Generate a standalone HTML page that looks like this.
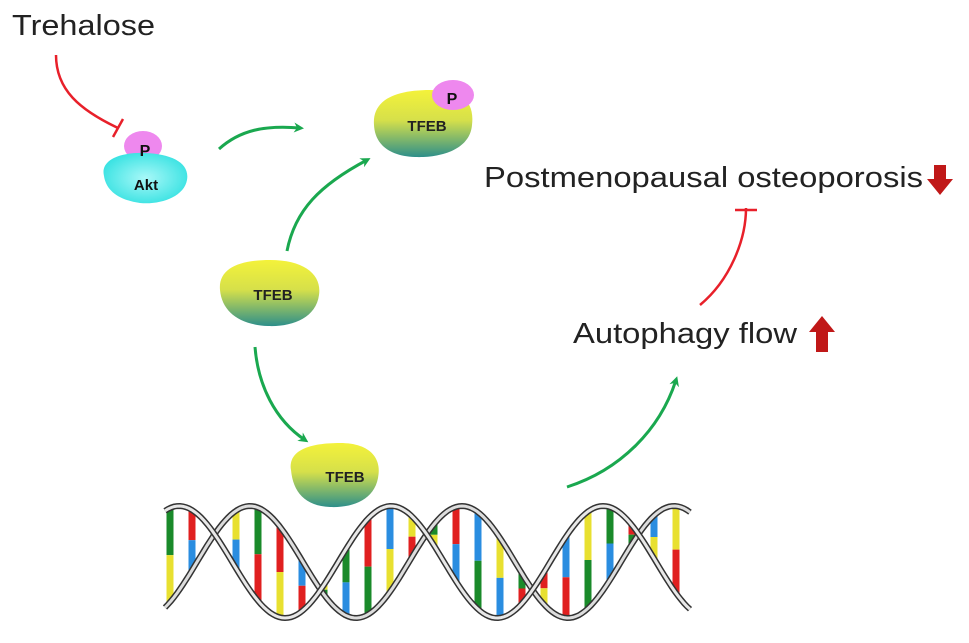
<!DOCTYPE html>
<html><head><meta charset="utf-8"><style>
html,body{margin:0;padding:0;background:#fff;}
svg{display:block;font-family:"Liberation Sans",Arial,sans-serif;}
</style></head><body>
<svg id="s" width="969" height="643" viewBox="0 0 969 643" xmlns="http://www.w3.org/2000/svg">
<defs>
<linearGradient id="ty" x1="0" y1="0" x2="0" y2="1">
<stop offset="0" stop-color="#f4f23a"/><stop offset="0.45" stop-color="#d6e04a"/><stop offset="1" stop-color="#2e8f8a"/></linearGradient>
<radialGradient id="ak" cx="0.5" cy="0.5" r="0.6"><stop offset="0" stop-color="#a8f8f8"/><stop offset="1" stop-color="#2ee0e0"/></radialGradient>
<marker id="ga" markerWidth="10" markerHeight="10" refX="6" refY="5" orient="auto" markerUnits="userSpaceOnUse"><path d="M0,0 L10,5 L0,10 L3,5 Z" fill="#1aa84f"/></marker>
</defs>
<text x="12" y="35" font-size="29" fill="#222" textLength="143" lengthAdjust="spacingAndGlyphs">Trehalose</text>
<path d="M56,55 C56,90 80,110 118,128" stroke="#e8202a" stroke-width="2.5" fill="none"/>
<line x1="113" y1="137" x2="123" y2="119" stroke="#e8202a" stroke-width="2.5"/>
<!-- Akt -->
<ellipse cx="143" cy="146" rx="19" ry="15" fill="#ee88ee"/>
<path d="M104,176 C100,160 120,152 145,153 C172,154 190,163 187,180 C184,197 160,205 140,203 C118,200 106,190 104,176Z" fill="url(#ak)"/>
<text x="145" y="156" font-size="16" font-weight="bold" text-anchor="middle" fill="#111">P</text>
<text x="146" y="190" font-size="15" font-weight="bold" text-anchor="middle" fill="#111">Akt</text>
<!-- arrows -->
<path d="M219,149 C240,130 265,125 300,128" stroke="#1aa84f" stroke-width="3" fill="none" marker-end="url(#ga)"/>
<path d="M287,251 C295,210 320,185 367,160" stroke="#1aa84f" stroke-width="3" fill="none" marker-end="url(#ga)"/>
<path d="M255,347 C258,385 275,420 305,440" stroke="#1aa84f" stroke-width="3" fill="none" marker-end="url(#ga)"/>
<path d="M567,487 C620,470 660,430 676,380" stroke="#1aa84f" stroke-width="3" fill="none" marker-end="url(#ga)"/>
<!-- TFEB-P top -->
<path d="M374,125 C372,100 395,90 430,90 C460,90 475,100 472,125 C470,150 440,158 415,157 C390,156 375,145 374,125Z" fill="url(#ty)"/>
<ellipse cx="453" cy="95" rx="21" ry="15" fill="#ee88ee"/>
<text x="452" y="104" font-size="16" font-weight="bold" text-anchor="middle" fill="#111">P</text>
<text x="427" y="131" font-size="15" font-weight="bold" text-anchor="middle" fill="#222">TFEB</text>
<!-- TFEB mid -->
<path d="M220,290 C218,268 240,260 270,260 C305,260 322,275 319,295 C316,318 292,327 268,326 C240,325 222,312 220,290Z" fill="url(#ty)"/>
<text x="273" y="300" font-size="15" font-weight="bold" text-anchor="middle" fill="#222">TFEB</text>
<!-- Right text -->
<text x="484" y="187" font-size="29" fill="#222" textLength="439" lengthAdjust="spacingAndGlyphs">Postmenopausal osteoporosis</text>
<path d="M934,165 h12 v14 h7 l-13,16 l-13,-16 h7z" fill="#c01818"/>
<path d="M746,208 C746,240 730,280 700,305" stroke="#e8202a" stroke-width="2.5" fill="none"/>
<line x1="735" y1="210" x2="757" y2="210" stroke="#e8202a" stroke-width="2.5"/>
<text x="573" y="343" font-size="29" fill="#222" textLength="224" lengthAdjust="spacingAndGlyphs">Autophagy flow</text>
<path d="M822,316 l13,16 h-7 v20 h-12 v-20 h-7z" fill="#c01818"/>
<g id="dna"></g>
<!-- TFEB bottom -->
<path d="M291,470 C288,450 310,443 340,443 C372,443 382,460 378,478 C374,500 352,508 330,507 C305,506 293,492 291,470Z" fill="url(#ty)"/>
<text x="345" y="482" font-size="15" font-weight="bold" text-anchor="middle" fill="#222">TFEB</text>
</svg>
<script>
var g=document.getElementById('dna');
var P=212,x0=165,x1=690,cy=562,A=56;
function yA(x){return cy-A*Math.cos(2*Math.PI*(x-250)/P);}
function yB(x){return cy-A*Math.cos(2*Math.PI*(x-250)/P+2.1);}
var cols=['#e02020','#2a8de0','#e8e030','#1a8a2a'];
var h='';
for(var x=170;x<685;x+=22){var a=yA(x),b=yB(x),t=Math.min(a,b),bt=Math.max(a,b);var m=(t+bt)/2;
var i=Math.floor(x/22)%4,j=(i+1+(x%3))%4;
h+='<line x1="'+x+'" y1="'+t+'" x2="'+x+'" y2="'+m+'" stroke="'+cols[i]+'" stroke-width="7"/>';
h+='<line x1="'+x+'" y1="'+m+'" x2="'+x+'" y2="'+bt+'" stroke="'+cols[j]+'" stroke-width="7"/>';}
function path(f){var d='';for(var x=x0;x<=x1;x+=3){d+=(x==x0?'M':'L')+x+','+f(x).toFixed(1);}return d;}
h+='<path d="'+path(yA)+'" stroke="#333" stroke-width="6" fill="none"/><path d="'+path(yA)+'" stroke="#ddd" stroke-width="3" fill="none"/>';
h+='<path d="'+path(yB)+'" stroke="#333" stroke-width="6" fill="none"/><path d="'+path(yB)+'" stroke="#e8e8e8" stroke-width="3" fill="none"/>';
g.innerHTML=h;
</script>
</body></html>
